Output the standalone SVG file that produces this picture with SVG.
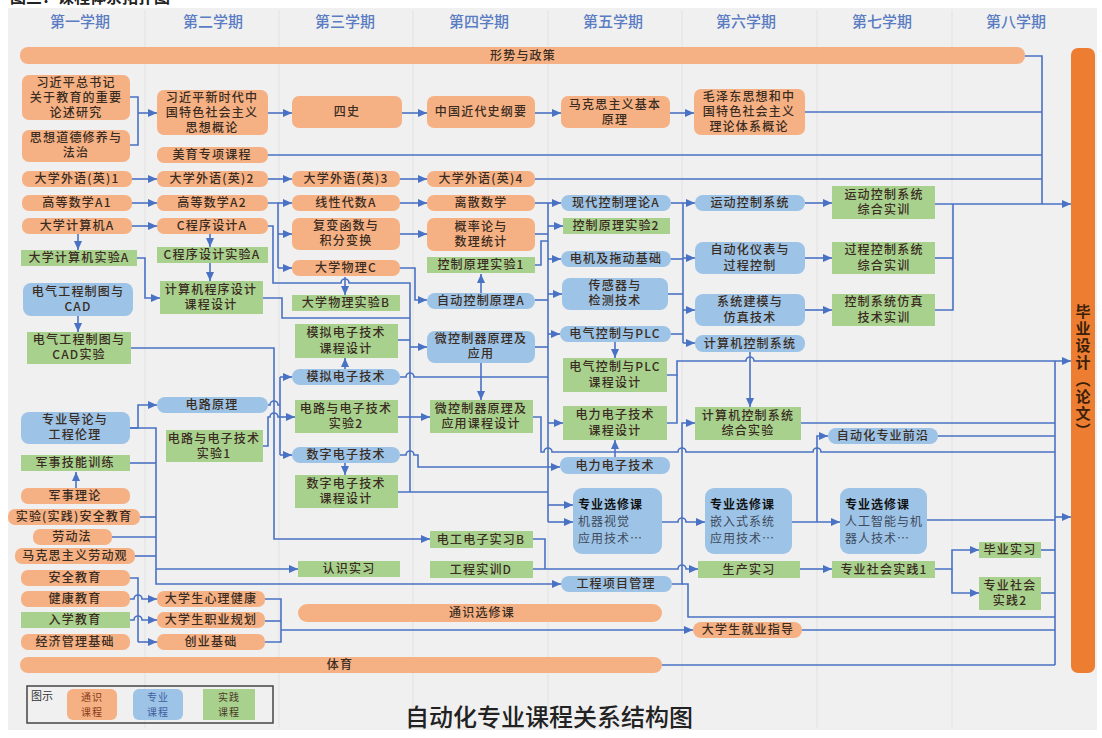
<svg xmlns="http://www.w3.org/2000/svg" width="1102" height="738" viewBox="0 0 1102 738">
<defs>
<style>
.o{fill:#f5b183}
.b{fill:#9dc3e6}
.g{fill:#a9d18e}
.t{font-family:"Noto Sans CJK SC","Noto Sans",sans-serif;font-size:12px;font-weight:500;fill:#3a2c22;text-anchor:middle;letter-spacing:1.2px}
.l{font-family:"Noto Sans CJK SC","Noto Sans",sans-serif;font-size:12px;fill:#3d4a5c;letter-spacing:1px}
.lb{font-weight:700;fill:#111}
.h{font-family:"Noto Sans CJK SC","Noto Sans",sans-serif;font-size:15px;fill:#5a7cc2;text-anchor:middle;font-weight:500}
.lg{font-family:"Noto Sans CJK SC","Noto Sans",sans-serif;font-size:10px;text-anchor:middle;letter-spacing:1px}
.sep{stroke:#e2e2e2;stroke-width:1}
.c path{fill:none;stroke:#4a72c4;stroke-width:1.6}
.c path.a{marker-end:url(#ar)}
</style>
<marker id="ar" markerWidth="9" markerHeight="8" refX="9" refY="4" orient="auto" markerUnits="userSpaceOnUse"><path d="M0,0 L9,4 L0,8 z" fill="#4a72c4"/></marker>
</defs>
<rect x="0" y="0" width="1102" height="738" fill="#ffffff"/>
<text x="10" y="3" font-family="Noto Sans CJK SC, sans-serif" font-size="16" font-weight="700" fill="#222">图三：课程体系拓扑图</text>
<rect x="8" y="8" width="1089" height="722" fill="#f0f0f0"/>
<g id="grid">
<line class="sep" x1="145" y1="10" x2="145" y2="728"/><line class="sep" x1="279" y1="10" x2="279" y2="728"/>
<line class="sep" x1="413" y1="10" x2="413" y2="728"/><line class="sep" x1="548" y1="10" x2="548" y2="728"/>
<line class="sep" x1="682" y1="10" x2="682" y2="728"/><line class="sep" x1="817" y1="10" x2="817" y2="728"/>
<line class="sep" x1="952" y1="10" x2="952" y2="728"/>
</g>
<g id="headers">
<text class="h" x="80" y="27">第一学期</text><text class="h" x="213" y="27">第二学期</text>
<text class="h" x="345" y="27">第三学期</text><text class="h" x="479" y="27">第四学期</text>
<text class="h" x="613" y="27">第五学期</text><text class="h" x="746" y="27">第六学期</text>
<text class="h" x="882" y="27">第七学期</text><text class="h" x="1016" y="27">第八学期</text>
</g>

<g id="connectors" class="c">
<path d="M130,97 H138 V145 H130"/><path class="a" d="M138,113 H157"/>
<path class="a" d="M268,113 H292"/><path class="a" d="M402,113 H427"/><path class="a" d="M535,113 H561"/><path class="a" d="M670,113 H694"/>
<path d="M805,112 H1042"/><path d="M1020,56 H1042 V204"/><path d="M268,155 H1042"/>
<path class="a" d="M132,179 H157"/><path class="a" d="M268,179 H292"/><path class="a" d="M400,179 H427"/><path d="M535,179 H1042"/>
<path class="a" d="M132,203 H157"/><path d="M268,203 H278 V268"/><path class="a" d="M278,203 H292"/><path class="a" d="M278,234 H292"/><path class="a" d="M278,268 H292"/>
<path class="a" d="M400,203 H427"/><path class="a" d="M400,234 H427"/>
<path class="a" d="M132,226 H157"/>
<path class="a" d="M78,234 V250"/><path class="a" d="M210,234 V247"/><path class="a" d="M210,263 V281"/><path class="a" d="M78,316 V332"/>
<path class="a" d="M137,258 H145 V298 H160"/>
<path d="M268,226 H273 V283 H341 a4,4 0 0 1 8,0 H410 V492"/>
<path class="a" d="M410,347 H427"/><path class="a" d="M410,417 H430"/>
<path d="M263,298 H282 V318 H410"/><path d="M398,340 H410"/>
<path class="a" d="M400,268 H415 V300 H427"/>
<path class="a" d="M345,277 V295"/>
<path class="a" d="M481,293 V274"/><path class="a" d="M481,363 V400"/>
<path class="a" d="M131,348 H274 V539 H430"/>
<path d="M268,405 H270 a4,4 0 0 1 8,0 H280"/><path d="M280,377 V455"/>
<path class="a" d="M280,377 H292"/><path class="a" d="M280,417 H295"/><path class="a" d="M280,455 H292"/>
<path d="M263,446 H268 V417 H270 a4,4 0 0 1 8,0 H280"/>
<path class="a" d="M345,369 V358"/><path class="a" d="M345,463 V475"/>
<path d="M400,377 H406 a4,4 0 0 1 8,0 H548"/>
<path d="M398,417 H410"/>
<path class="a" d="M400,455 H406 a4,4 0 0 1 8,0 H418 V467 H560"/>
<path d="M398,492 H548"/>
<path d="M533,417 H541 V452 H544 a4,4 0 0 1 8,0 H678 a4,4 0 0 1 8,0 H813 a4,4 0 0 1 8,0 H1055"/>
<path d="M548,203 V522"/>
<path d="M535,203 H548"/><path d="M535,234 H548"/><path d="M535,265 H541 V241 H548"/><path d="M535,300 H548"/><path d="M535,347 H548"/>
<path class="a" d="M548,203 H561"/><path class="a" d="M548,226 H563"/><path class="a" d="M548,259 H561"/><path class="a" d="M548,294 H562"/><path class="a" d="M548,334 H560"/><path class="a" d="M548,423 H563"/><path class="a" d="M548,505 H573"/><path class="a" d="M548,522 H573"/>
<path d="M683,203 V343"/><path d="M671,203 H683"/><path d="M670,259 H683"/><path d="M668,294 H683"/><path d="M671,334 H683"/>
<path class="a" d="M683,203 H695"/><path class="a" d="M683,258 H695"/><path class="a" d="M683,310 H695"/><path class="a" d="M683,343 H695"/>
<path class="a" d="M615,342 V358"/><path class="a" d="M615,457 V440"/>
<path class="a" d="M667,375 H677 V361 H746 a4,4 0 0 1 8,0 H1071"/><path d="M667,423 H677 V375"/>
<path class="a" d="M750,352 V407"/>
<path d="M801,423 H1055"/>
<path class="a" d="M672,584 H682 V423 H695"/><path d="M682,584 H688 V617 H1055"/>
<path class="a" d="M662,522 H678 a4,4 0 0 1 8,0 H705"/>
<path class="a" d="M792,522 H840"/><path class="a" d="M817,522 V436 H828"/>
<path d="M927,520 H1055"/>
<path d="M533,539 H545 V569"/><path class="a" d="M533,569 H678 a4,4 0 0 1 8,0 H698"/>
<path class="a" d="M800,569 H832"/>
<path class="a" d="M935,569 H952 V550 H979"/><path class="a" d="M952,569 V593 H979"/>
<path d="M1041,550 H1055"/><path d="M1041,593 H1055"/>
<path d="M1055,361 V665"/><path class="a" d="M1055,517 H1071"/>
<path class="a" d="M935,204 H1071"/><path d="M935,258 H953"/><path d="M935,310 H953 V204"/>
<path class="a" d="M805,203 H832"/><path class="a" d="M805,258 H832"/><path class="a" d="M805,310 H832"/>
<path d="M938,436 H1055"/>
<path class="a" d="M130,428 H138 V405 H157"/><path class="a" d="M130,428 H156 V584 H561"/><path class="a" d="M156,569 H298"/>
<path d="M130,463 H156"/><path d="M140,517 H156"/><path d="M112,537 H156"/><path d="M135,556 H156"/>
<path class="a" d="M76,488 V472"/>
<path d="M130,578 H138 V642"/><path class="a" d="M138,642 H157"/>
<path class="a" d="M130,599 H134 a4,4 0 0 1 8,0 H157"/><path class="a" d="M130,620 H134 a4,4 0 0 1 8,0 H157"/>
<path d="M265,599 H281 V642 H265"/><path d="M265,621 H281"/><path class="a" d="M281,630 H693"/>
<path d="M802,630 H1055"/>
<path d="M662,665 H1055"/>
</g>

<g id="bar-xingshi"><rect class="o" x="20" y="47" width="1005" height="17" rx="8"/><text class="t" x="523" y="60">形势与政策</text></g>
<g id="bar-tongshi"><rect class="o" x="298" y="604" width="364" height="18" rx="9"/><text class="t" x="482" y="617">通识选修课</text></g>
<g id="bar-tiyu"><rect class="o" x="20" y="657" width="642" height="16" rx="8"/><text class="t" x="340" y="669">体育</text></g>
<g id="bar-biye"><rect x="1071" y="48" width="24" height="625" rx="7" fill="#ed7d31"/><text x="1083" y="304" writing-mode="vertical-rl" font-family="Noto Sans CJK SC, sans-serif" font-size="15" font-weight="700" fill="#3a1f0a" letter-spacing="2">毕业设计（论文）</text></g>

<!-- semester 1 -->
<g id="n1"><rect class="o" x="22" y="75" width="108" height="45" rx="7"/><text class="t"><tspan x="76" y="87">习近平总书记</tspan><tspan x="76" y="102">关于教育的重要</tspan><tspan x="76" y="117">论述研究</tspan></text></g>
<g id="n2"><rect class="o" x="22" y="130" width="108" height="32" rx="7"/><text class="t"><tspan x="76" y="142">思想道德修养与</tspan><tspan x="76" y="157">法治</tspan></text></g>
<g id="n3"><rect class="o" x="22" y="171" width="110" height="16" rx="7"/><text class="t" x="77" y="183">大学外语(英)1</text></g>
<g id="n4"><rect class="o" x="22" y="195" width="110" height="16" rx="7"/><text class="t" x="77" y="207">高等数学A1</text></g>
<g id="n5"><rect class="o" x="22" y="218" width="110" height="16" rx="7"/><text class="t" x="77" y="230">大学计算机A</text></g>
<g id="n6"><rect class="g" x="21" y="250" width="116" height="16"/><text class="t" x="79" y="262">大学计算机实验A</text></g>
<g id="n7"><rect class="b" x="23" y="283" width="110" height="33" rx="8"/><text class="t"><tspan x="78" y="296">电气工程制图与</tspan><tspan x="78" y="311">CAD</tspan></text></g>
<g id="n8"><rect class="g" x="27" y="332" width="104" height="32"/><text class="t"><tspan x="79" y="344">电气工程制图与</tspan><tspan x="79" y="359">CAD实验</tspan></text></g>
<g id="n9"><rect class="b" x="21" y="412" width="109" height="32" rx="8"/><text class="t"><tspan x="75" y="424">专业导论与</tspan><tspan x="75" y="439">工程伦理</tspan></text></g>
<g id="n10"><rect class="g" x="21" y="455" width="109" height="16"/><text class="t" x="75" y="467">军事技能训练</text></g>
<g id="n11"><rect class="o" x="21" y="488" width="109" height="16" rx="7"/><text class="t" x="75" y="500">军事理论</text></g>
<g id="n12"><rect class="o" x="8" y="509" width="132" height="16" rx="7"/><text class="t" x="74" y="521">实验(实践)安全教育</text></g>
<g id="n13"><rect class="o" x="33" y="529" width="79" height="16" rx="7"/><text class="t" x="72" y="541">劳动法</text></g>
<g id="n14"><rect class="o" x="15" y="548" width="120" height="16" rx="7"/><text class="t" x="75" y="560">马克思主义劳动观</text></g>
<g id="n15"><rect class="o" x="21" y="570" width="109" height="16" rx="7"/><text class="t" x="75" y="582">安全教育</text></g>
<g id="n16"><rect class="o" x="21" y="591" width="109" height="16" rx="7"/><text class="t" x="75" y="603">健康教育</text></g>
<g id="n17"><rect class="g" x="21" y="612" width="109" height="16"/><text class="t" x="75" y="624">入学教育</text></g>
<g id="n18"><rect class="o" x="21" y="634" width="109" height="16" rx="7"/><text class="t" x="75" y="646">经济管理基础</text></g>

<!-- semester 2 -->
<g id="m1"><rect class="o" x="157" y="90" width="111" height="45" rx="7"/><text class="t"><tspan x="212" y="102">习近平新时代中</tspan><tspan x="212" y="117">国特色社会主义</tspan><tspan x="212" y="132">思想概论</tspan></text></g>
<g id="m2"><rect class="o" x="157" y="147" width="111" height="16" rx="7"/><text class="t" x="212" y="159">美育专项课程</text></g>
<g id="m3"><rect class="o" x="157" y="171" width="111" height="16" rx="7"/><text class="t" x="212" y="183">大学外语(英)2</text></g>
<g id="m4"><rect class="o" x="157" y="195" width="111" height="16" rx="7"/><text class="t" x="212" y="207">高等数学A2</text></g>
<g id="m5"><rect class="o" x="157" y="218" width="111" height="16" rx="7"/><text class="t" x="212" y="230">C程序设计A</text></g>
<g id="m6"><rect class="g" x="157" y="247" width="111" height="16"/><text class="t" x="212" y="259">C程序设计实验A</text></g>
<g id="m7"><rect class="g" x="160" y="281" width="103" height="33"/><text class="t"><tspan x="211" y="294">计算机程序设计</tspan><tspan x="211" y="309">课程设计</tspan></text></g>
<g id="m8"><rect class="b" x="157" y="397" width="111" height="16" rx="8"/><text class="t" x="212" y="409">电路原理</text></g>
<g id="m9"><rect class="g" x="166" y="430" width="97" height="32"/><text class="t"><tspan x="214" y="443">电路与电子技术</tspan><tspan x="214" y="458">实验1</tspan></text></g>
<g id="m10"><rect class="o" x="157" y="591" width="108" height="16" rx="7"/><text class="t" x="211" y="603">大学生心理健康</text></g>
<g id="m11"><rect class="o" x="157" y="612" width="108" height="16" rx="7"/><text class="t" x="211" y="624">大学生职业规划</text></g>
<g id="m12"><rect class="o" x="157" y="634" width="108" height="16" rx="7"/><text class="t" x="211" y="646">创业基础</text></g>

<!-- semester 3 -->
<g id="s1"><rect class="o" x="292" y="96" width="110" height="32" rx="7"/><text class="t" x="347" y="116">四史</text></g>
<g id="s2"><rect class="o" x="292" y="171" width="108" height="16" rx="7"/><text class="t" x="346" y="183">大学外语(英)3</text></g>
<g id="s3"><rect class="o" x="292" y="195" width="108" height="16" rx="7"/><text class="t" x="346" y="207">线性代数A</text></g>
<g id="s4"><rect class="o" x="292" y="218" width="108" height="32" rx="7"/><text class="t"><tspan x="346" y="230">复变函数与</tspan><tspan x="346" y="245">积分变换</tspan></text></g>
<g id="s5"><rect class="o" x="292" y="260" width="108" height="16" rx="7"/><text class="t" x="346" y="272">大学物理C</text></g>
<g id="s6"><rect class="g" x="292" y="295" width="108" height="16"/><text class="t" x="346" y="307">大学物理实验B</text></g>
<g id="s7"><rect class="g" x="295" y="324" width="103" height="34"/><text class="t"><tspan x="346" y="337">模拟电子技术</tspan><tspan x="346" y="353">课程设计</tspan></text></g>
<g id="s8"><rect class="b" x="292" y="369" width="108" height="16" rx="8"/><text class="t" x="346" y="381">模拟电子技术</text></g>
<g id="s9"><rect class="g" x="295" y="400" width="103" height="33"/><text class="t"><tspan x="346" y="413">电路与电子技术</tspan><tspan x="346" y="428">实验2</tspan></text></g>
<g id="s10"><rect class="b" x="292" y="447" width="108" height="16" rx="8"/><text class="t" x="346" y="459">数字电子技术</text></g>
<g id="s11"><rect class="g" x="295" y="475" width="103" height="33"/><text class="t"><tspan x="346" y="488">数字电子技术</tspan><tspan x="346" y="503">课程设计</tspan></text></g>
<g id="s12"><rect class="g" x="298" y="561" width="102" height="16"/><text class="t" x="349" y="573">认识实习</text></g>

<!-- semester 4 -->
<g id="f1"><rect class="o" x="427" y="96" width="108" height="32" rx="7"/><text class="t" x="481" y="116">中国近代史纲要</text></g>
<g id="f2"><rect class="o" x="427" y="171" width="108" height="16" rx="7"/><text class="t" x="481" y="183">大学外语(英)4</text></g>
<g id="f3"><rect class="o" x="427" y="195" width="108" height="16" rx="7"/><text class="t" x="481" y="207">离散数学</text></g>
<g id="f4"><rect class="o" x="427" y="218" width="108" height="33" rx="7"/><text class="t"><tspan x="481" y="231">概率论与</tspan><tspan x="481" y="246">数理统计</tspan></text></g>
<g id="f5"><rect class="g" x="427" y="257" width="108" height="16"/><text class="t" x="481" y="269">控制原理实验1</text></g>
<g id="f6"><rect class="b" x="427" y="293" width="108" height="16" rx="8"/><text class="t" x="481" y="305">自动控制原理A</text></g>
<g id="f7"><rect class="b" x="427" y="331" width="108" height="32" rx="8"/><text class="t"><tspan x="481" y="343">微控制器原理及</tspan><tspan x="481" y="358">应用</tspan></text></g>
<g id="f8"><rect class="g" x="430" y="400" width="103" height="33"/><text class="t"><tspan x="481" y="413">微控制器原理及</tspan><tspan x="481" y="428">应用课程设计</tspan></text></g>
<g id="f9"><rect class="g" x="430" y="531" width="103" height="17"/><text class="t" x="481" y="544">电工电子实习B</text></g>
<g id="f10"><rect class="g" x="430" y="561" width="103" height="17"/><text class="t" x="481" y="574">工程实训D</text></g>

<!-- semester 5 -->
<g id="v1"><rect class="o" x="561" y="96" width="109" height="32" rx="7"/><text class="t"><tspan x="615" y="109">马克思主义基本</tspan><tspan x="615" y="124">原理</tspan></text></g>
<g id="v2"><rect class="b" x="561" y="195" width="110" height="16" rx="8"/><text class="t" x="616" y="207">现代控制理论A</text></g>
<g id="v3"><rect class="g" x="563" y="218" width="107" height="16"/><text class="t" x="616" y="230">控制原理实验2</text></g>
<g id="v4"><rect class="b" x="561" y="251" width="110" height="16" rx="8"/><text class="t" x="616" y="263">电机及拖动基础</text></g>
<g id="v5"><rect class="b" x="562" y="278" width="106" height="32" rx="8"/><text class="t"><tspan x="615" y="290">传感器与</tspan><tspan x="615" y="305">检测技术</tspan></text></g>
<g id="v6"><rect class="b" x="560" y="326" width="111" height="16" rx="8"/><text class="t" x="615" y="338">电气控制与PLC</text></g>
<g id="v7"><rect class="g" x="563" y="358" width="104" height="34"/><text class="t"><tspan x="615" y="371">电气控制与PLC</tspan><tspan x="615" y="387">课程设计</tspan></text></g>
<g id="v8"><rect class="g" x="563" y="406" width="104" height="34"/><text class="t"><tspan x="615" y="419">电力电子技术</tspan><tspan x="615" y="435">课程设计</tspan></text></g>
<g id="v9"><rect class="b" x="560" y="457" width="110" height="17" rx="8"/><text class="t" x="615" y="470">电力电子技术</text></g>
<g id="v10"><rect class="b" x="573" y="488" width="89" height="66" rx="9"/><text class="l"><tspan class="lb" x="578" y="509">专业选修课</tspan><tspan x="578" y="526">机器视觉</tspan><tspan x="578" y="543">应用技术…</tspan></text></g>
<g id="v11"><rect class="b" x="561" y="576" width="111" height="16" rx="8"/><text class="t" x="616" y="588">工程项目管理</text></g>

<!-- semester 6 -->
<g id="x1"><rect class="o" x="694" y="89" width="111" height="46" rx="7"/><text class="t"><tspan x="749" y="101">毛泽东思想和中</tspan><tspan x="749" y="116">国特色社会主义</tspan><tspan x="749" y="131">理论体系概论</tspan></text></g>
<g id="x2"><rect class="b" x="695" y="195" width="110" height="16" rx="8"/><text class="t" x="750" y="207">运动控制系统</text></g>
<g id="x3"><rect class="b" x="695" y="242" width="110" height="32" rx="8"/><text class="t"><tspan x="750" y="254">自动化仪表与</tspan><tspan x="750" y="270">过程控制</tspan></text></g>
<g id="x4"><rect class="b" x="695" y="294" width="110" height="32" rx="8"/><text class="t"><tspan x="750" y="306">系统建模与</tspan><tspan x="750" y="322">仿真技术</tspan></text></g>
<g id="x5"><rect class="b" x="695" y="335" width="110" height="17" rx="8"/><text class="t" x="750" y="348">计算机控制系统</text></g>
<g id="x6"><rect class="g" x="695" y="407" width="106" height="33"/><text class="t"><tspan x="748" y="420">计算机控制系统</tspan><tspan x="748" y="435">综合实验</tspan></text></g>
<g id="x7"><rect class="b" x="705" y="488" width="87" height="66" rx="9"/><text class="l"><tspan class="lb" x="710" y="509">专业选修课</tspan><tspan x="710" y="526">嵌入式系统</tspan><tspan x="710" y="543">应用技术…</tspan></text></g>
<g id="x8"><rect class="g" x="698" y="561" width="102" height="17"/><text class="t" x="749" y="574">生产实习</text></g>
<g id="x9"><rect class="o" x="693" y="622" width="109" height="16" rx="8"/><text class="t" x="748" y="634">大学生就业指导</text></g>

<!-- semester 7 -->
<g id="y1"><rect class="g" x="832" y="186" width="103" height="33"/><text class="t"><tspan x="884" y="199">运动控制系统</tspan><tspan x="884" y="214">综合实训</tspan></text></g>
<g id="y2"><rect class="g" x="832" y="242" width="103" height="32"/><text class="t"><tspan x="884" y="254">过程控制系统</tspan><tspan x="884" y="270">综合实训</tspan></text></g>
<g id="y3"><rect class="g" x="832" y="294" width="103" height="32"/><text class="t"><tspan x="884" y="306">控制系统仿真</tspan><tspan x="884" y="322">技术实训</tspan></text></g>
<g id="y4"><rect class="b" x="828" y="428" width="110" height="16" rx="8"/><text class="t" x="883" y="440">自动化专业前沿</text></g>
<g id="y5"><rect class="b" x="840" y="488" width="87" height="66" rx="9"/><text class="l"><tspan class="lb" x="845" y="509">专业选修课</tspan><tspan x="845" y="526">人工智能与机</tspan><tspan x="845" y="543">器人技术…</tspan></text></g>
<g id="y6"><rect class="g" x="832" y="561" width="103" height="17"/><text class="t" x="884" y="574">专业社会实践1</text></g>

<!-- semester 8 -->
<g id="z1"><rect class="g" x="979" y="542" width="62" height="16"/><text class="t" x="1010" y="554">毕业实习</text></g>
<g id="z2"><rect class="g" x="979" y="577" width="62" height="33"/><text class="t"><tspan x="1010" y="590">专业社会</tspan><tspan x="1010" y="605">实践2</tspan></text></g>

<g id="legend">
<rect x="27" y="686" width="246" height="37" fill="none" stroke="#444" stroke-width="1.5"/>
<text x="31" y="700" font-family="Noto Sans CJK SC, sans-serif" font-size="11" fill="#333">图示</text>
<rect class="o" x="67" y="689" width="50" height="31" rx="6"/>
<text class="lg" x="92" y="701" fill="#8a3b1c">通识</text><text class="lg" x="92" y="716" fill="#8a3b1c">课程</text>
<rect class="b" x="133" y="689" width="50" height="31" rx="6"/>
<text class="lg" x="158" y="701" fill="#3d5f9e">专业</text><text class="lg" x="158" y="716" fill="#3d5f9e">课程</text>
<rect class="g" x="203" y="689" width="52" height="31"/>
<text class="lg" x="229" y="701" fill="#4a3a26">实践</text><text class="lg" x="229" y="716" fill="#4a3a26">课程</text>
</g>
<text x="549" y="726" text-anchor="middle" font-family="Noto Sans CJK SC, sans-serif" font-size="24" font-weight="500" fill="#222">自动化专业课程关系结构图</text>
</svg>
